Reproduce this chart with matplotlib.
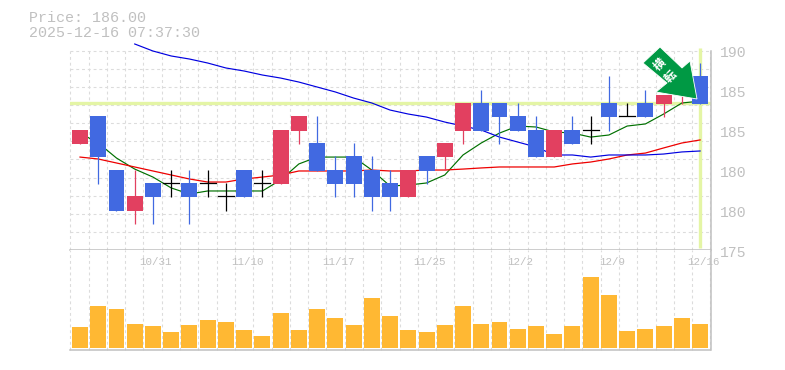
#!/usr/bin/env python3
"""Daily candlestick chart with moving averages and a volume panel."""

import matplotlib
matplotlib.use("Agg")
import matplotlib.pyplot as plt
from matplotlib.patches import Polygon
import numpy as np

W, H = 785, 370
GRAY = "#c0c0c0"
GRID = "#dcdcdc"
UP, DOWN, YELLOW = "#e24060", "#4169e1", "#e4f5a5"

opens = [184.13, 185.88, 182.5, 179.94, 181.69, 181.69, 181.69, 181.69, 180.88, 182.5,
         181.69, 181.63, 184.94, 184.19, 182.5, 183.38, 182.5, 181.69, 180.81, 183.38,
         183.31, 184.94, 186.69, 186.69, 185.88, 185.0, 183.31, 185.0, 185.0, 186.69,
         185.88, 186.69, 186.63, 187.5, 188.38]
closes = [185.0, 183.31, 179.94, 180.88, 180.81, 181.69, 180.81, 181.69, 180.88, 180.81,
          181.69, 185.0, 185.88, 182.44, 181.63, 181.63, 180.81, 180.81, 182.5, 182.44,
          184.19, 186.69, 184.94, 185.81, 184.94, 183.31, 185.0, 184.13, 185.0, 185.81,
          185.88, 185.81, 187.19, 188.31, 186.63]
highs = [185.0, 185.88, 182.5, 182.5, 181.69, 182.5, 182.5, 182.5, 181.69, 182.5,
         182.5, 185.0, 185.88, 185.88, 183.38, 184.19, 183.38, 182.5, 182.5, 183.38,
         184.19, 186.69, 187.5, 186.69, 186.69, 185.88, 185.0, 185.88, 185.88, 188.38,
         186.69, 187.5, 187.19, 188.31, 189.19]
lows = [184.13, 181.63, 179.94, 179.13, 179.13, 180.81, 179.13, 180.81, 179.94, 180.81,
        180.81, 181.63, 184.13, 182.44, 180.81, 180.81, 179.94, 179.94, 180.81, 181.63,
        182.5, 184.13, 184.94, 184.13, 184.94, 183.31, 183.31, 184.13, 184.13, 184.94,
        185.88, 185.81, 185.81, 186.63, 186.63]
ma_short = [184.81, 184.19, 183.25, 182.56, 182.06, 181.38, 181.0, 181.19, 181.19, 181.19,
            181.19, 181.88, 182.88, 183.31, 183.31, 183.31, 182.5, 181.5, 181.56, 181.69,
            182.19, 183.44, 184.19, 184.81, 185.25, 185.19, 184.88, 184.81, 184.56, 184.69,
            185.25, 185.38, 186.0, 186.69, 186.81]
ma_mid = [183.31, 183.19, 182.94, 182.69, 182.44, 182.19, 181.94, 181.75, 181.75, 181.94,
          182.06, 182.19, 182.44, 182.44, 182.44, 182.44, 182.5, 182.44, 182.44, 182.5,
          182.5, 182.56, 182.63, 182.69, 182.69, 182.69, 182.69, 182.88, 183.0, 183.19,
          183.44, 183.56, 183.88, 184.19, 184.38]
ma_long = [190.38, 189.94, 189.63, 189.44, 189.19, 188.88, 188.69, 188.44, 188.25, 188.0,
           187.69, 187.38, 187.0, 186.69, 186.25, 186.0, 185.81, 185.5, 185.25, 185.0,
           184.56, 184.25, 183.94, 183.44, 183.44, 183.31, 183.44, 183.44, 183.44, 183.5,
           183.63, 183.69]
ma_long_start = 3
volumes = [21, 42, 39, 24, 22, 16, 23, 28, 26, 18, 12, 35, 18, 39, 30, 23, 50, 32,
           18, 16, 23, 42, 24, 26, 19, 22, 14, 22, 71, 53, 17, 19, 22, 30, 24]
date_idx = [4, 9, 14, 19, 24, 29, 34]
date_labels = ["10/31", "11/10", "11/17", "11/25", "12/2", "12/9", "12/16"]
price_ticks = [190, 187.5, 185, 182.5, 180, 177.5]
price_labels = ["190", "185", "185", "180", "180", "175"]
last_price = 186.69

plt.rcParams["font.family"] = ["Liberation Mono", "Noto Sans CJK JP", "DejaVu Sans"]


def px_axes(fig, left, top, right, bottom):
    return fig.add_axes([left / W, 1 - bottom / H, (right - left) / W, (bottom - top) / H])


fig = plt.figure(figsize=(W / 100, H / 100), dpi=100)
ax = px_axes(fig, 70.3, 50.7, 710.5, 250)
vol = px_axes(fig, 70.3, 250, 710.5, 350)

xlim = (-0.532, 34.57)
x = np.arange(len(opens))
for a in (ax, vol):
    a.set_xlim(*xlim)
    a.set_xticks(np.linspace(*xlim, 36))
    a.tick_params(length=0, labelbottom=False, labelleft=False)
    a.grid(True, axis="x", color=GRID, ls=(0, (2.6, 2.6)), lw=0.8, clip_on=False)
    a.set_axisbelow(True)
    for side in ("top", "left"):
        a.spines[side].set_visible(False)
    for side in ("right", "bottom"):
        a.spines[side].set_color(GRAY)
        a.spines[side].set_linewidth(1.1)

ax.set_ylim(177.5, 189.96)
ax.set_yticks(np.linspace(177.5, 189.96, 12))
ax.grid(True, axis="y", color=GRID, ls=(0, (2.6, 2.6)), lw=0.8, clip_on=False)
vol.set_ylim(-2, 98)
vol.set_yticks([])

ax.axhline(last_price, color=YELLOW, lw=2.4, zorder=1)
ax.plot([x[-1], x[-1]], [177.6, 190.1], color=YELLOW, lw=2.4, zorder=1, clip_on=False,
        solid_capstyle="butt")

ax.plot(x, ma_short, color="#007000", lw=0.85, zorder=2)
ax.plot(x, ma_mid, color="#ee0000", lw=0.9, zorder=2)
ax.plot(x[ma_long_start:], ma_long, color="#0000e0", lw=0.85, zorder=2, clip_on=False)

for i, (o, c, h, l) in enumerate(zip(opens, closes, highs, lows)):
    col = "black" if o == c else (UP if c > o else DOWN)
    ax.plot([i, i], [l, h], color=col, lw=0.9, zorder=3, solid_capstyle="butt")
    if o == c:
        ax.plot([i - 0.44, i + 0.44], [o, o], color=col, lw=0.9, zorder=3)
    else:
        ax.bar(i, abs(c - o), bottom=min(o, c), width=0.875, color=col, zorder=4)

vol.bar(x, volumes, width=0.875, color="#ffb833", zorder=3)

for i, lab in zip(date_idx, date_labels):
    vol.annotate(lab, (i, 1), xycoords=("data", "axes fraction"), xytext=(3, -12),
                 textcoords="offset pixels", ha="center", va="center",
                 fontsize=7.8, color=GRAY, annotation_clip=False)

for p, lab in zip(price_ticks, price_labels):
    ax.annotate(lab, (1, p), xycoords=("axes fraction", "data"), xytext=(9, -3),
                textcoords="offset pixels", ha="left", va="center",
                fontsize=10.6, color=GRAY, annotation_clip=False)

fig.text(29 / W, 1 - 18 / H, "Price: 186.00", fontsize=10.8, color=GRAY, va="center")
fig.text(29 / W, 1 - 33 / H, "2025-12-16 07:37:30", fontsize=10.8, color=GRAY, va="center")

# buy-signal arrow sits on top of everything, placed in figure pixels
arrow_px = np.array([(660, 47), (682, 68), (690, 61), (697, 99), (656, 92), (667, 83), (643, 63)])
arrow_fig = arrow_px / [W, H]
arrow_fig[:, 1] = 1 - arrow_fig[:, 1]
fig.add_artist(Polygon(arrow_fig, closed=True, transform=fig.transFigure, facecolor="#009944",
                       edgecolor="white", lw=0.6, zorder=10))
for (gx, gy), glyph in zip([(660, 65), (671, 77)], "横転"):
    fig.text(gx / W, 1 - gy / H, glyph, fontsize=8.5, color="white", rotation=45, ha="center",
             va="center", weight="bold", zorder=11)

fig.savefig("out.png", dpi=100)
